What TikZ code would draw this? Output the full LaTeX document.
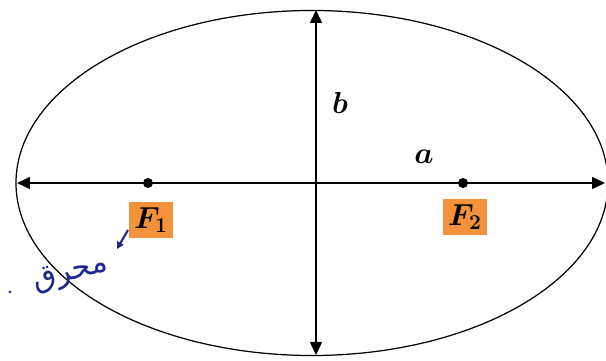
\documentclass[tikz,border=0pt]{standalone}
\usepackage{fontspec}
\usepackage{bm}
\usetikzlibrary{arrows.meta}
\TeXXeTstate=1
\newfontfamily\arabicfont[Script=Arabic]{DejaVu Sans}
\definecolor{hilite}{RGB}{243,146,58}
\definecolor{penblue}{RGB}{30,40,140}
\tikzset{
  axis/.style={line width=0.9pt,{Triangle[length=0.26cm,width=0.24cm]}-{Triangle[length=0.26cm,width=0.24cm]}},
  focusdot/.style={circle,fill=black,inner sep=0pt,minimum size=0.2cm},
  focuslabel/.style={fill=hilite,inner sep=0.1cm,font=\LARGE},
  axislabel/.style={font=\LARGE}
}
\begin{document}
\begin{tikzpicture}
\useasboundingbox (0,0) rectangle (12.12,7.22);
\draw[line width=0.7pt] (6.24,3.56) ellipse (5.92 and 3.45);
% axes
\coordinate (left) at (0.34,3.56);
\coordinate (right) at (12.10,3.56);
\coordinate (top) at (6.32,7.02);
\coordinate (bottom) at (6.32,0.12);
\draw[axis] (left) -- (right);
\draw[axis] (bottom) -- (top);
% foci
\node[focusdot] (f1) at (2.96,3.56) {};
\node[focusdot] (f2) at (9.26,3.56) {};
\node[focuslabel] (f1lab) at (3.02,2.82) {$\bm{F_1}$};
\node[focuslabel] (f2lab) at (9.30,2.88) {$\bm{F_2}$};
\node[axislabel] (blab) at (6.80,5.16) {$\bm{b}$};
\node[axislabel] (alab) at (8.48,4.08) {$\bm{a}$};
% note
\node[penblue,rotate=15,font=\LARGE] (note) at (1.42,1.74) {\arabicfont\beginR محرق\endR};
\draw[penblue,line width=1.2pt,-{Triangle[length=0.14cm,width=0.14cm]}] (2.56,2.62) -- (2.34,2.24);
\node[penblue,circle,fill=penblue,inner sep=0pt,minimum size=0.06cm] (dot) at (0.2,1.38) {};
\end{tikzpicture}
\end{document}
